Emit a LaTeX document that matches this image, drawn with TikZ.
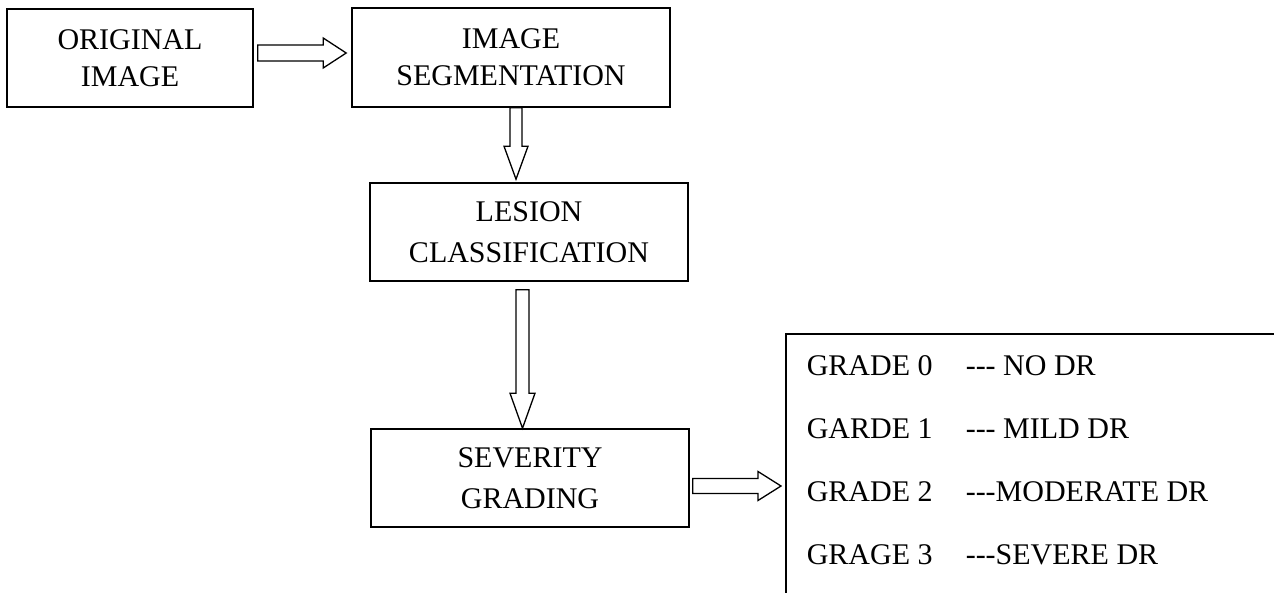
\documentclass[tikz,border=0pt]{standalone}
\usepackage{fontspec}
\setmainfont{Liberation Serif}
\usetikzlibrary{calc}

\tikzset{every picture/.style={line width=1.5pt}}
\tikzset{
	stage/.style={draw, line width=1.6pt, inner sep=0pt, minimum width=318pt, minimum height=98pt, align=center, font=\fontsize{30}{41}\selectfont},
	blockarr/.style={draw, line width=1.3pt, fill=white, line join=miter},
	grade/.style={anchor=base west, inner sep=0pt, font=\fontsize{30}{36}\selectfont}
}

% hollow block arrows: from, to, half shaft, half head, head length
\newcommand{\rblock}[5]{\draw [blockarr] ($(#1)+(0,-#3)$) -- ($(#2)+(-#5,-#3)$) -- ($(#2)+(-#5,-#4)$) -- (#2) -- ($(#2)+(-#5,#4)$) -- ($(#2)+(-#5,#3)$) -- ($(#1)+(0,#3)$) -- cycle;}
\newcommand{\dblock}[5]{\draw [blockarr] ($(#1)+(-#3,0)$) -- ($(#2)+(-#3,-#5)$) -- ($(#2)+(-#4,-#5)$) -- (#2) -- ($(#2)+(#4,-#5)$) -- ($(#2)+(#3,-#5)$) -- ($(#1)+(#3,0)$) -- cycle;}

\begin{document}
\begin{tikzpicture}[x=1pt,y=1pt,yscale=-1,xscale=1]
		\path [use as bounding box] (0,0) rectangle (1274,592);
		\clip (0,0) rectangle (1274,592);
		
		% Stages
		\node [stage, minimum width=246pt, font=\fontsize{30}{37}\selectfont] (orig) at (130,58) {ORIGINAL\\IMAGE};
		\node [stage, minimum height=99pt, font=\fontsize{30}{37}\selectfont] (seg) at (511,57.5) {IMAGE\\SEGMENTATION};
		\node [stage] (lesion) at (529,232) {LESION\\CLASSIFICATION};
		\node [stage] (sev) at (530,478) {SEVERITY\\GRADING};
		% Grade box (runs off the page)
		\node [draw, line width=1.7pt, inner sep=0pt, minimum width=600pt, minimum height=400pt, anchor=north west] (grades) at (785,333) {};
		
		% Arrow ends
		\coordinate (a1s) at ($(orig.east)+(4,-5)$);
		\coordinate (a1e) at ($(a1s -| seg.west)+(-5,0)$);
		\coordinate (a2s) at ($(seg.south)+(5,0)$);
		\coordinate (a2e) at ($(a2s |- lesion.north)+(0,-3)$);
		\coordinate (a3s) at ($(lesion.south)+(-6.5,8)$);
		\coordinate (a3e) at (a3s |- sev.north);
		\coordinate (a4s) at ($(sev.east)+(3,8)$);
		\coordinate (a4e) at ($(a4s -| grades.west)+(-4,0)$);
		
		% Block arrows
		\rblock{a1s}{a1e}{8}{15}{23}
		\dblock{a2s}{a2e}{6}{12}{33}
		\dblock{a3s}{a3e}{6.5}{12.5}{35}
		\rblock{a4s}{a4e}{7.5}{14.5}{23}
		
		% Grades
		\node [grade] (g0) at (806,375) {GRADE 0};
		\node [grade] (d0) at (965,375) {-{}-{}- NO DR};
		\node [grade] (g1) at (806,438) {GARDE 1};
		\node [grade] (d1) at (965,438) {-{}-{}- MILD DR};
		\node [grade] (g2) at (806,501) {GRADE 2};
		\node [grade] (d2) at (965,501) {-{}-{}-MODERATE DR};
		\node [grade] (g3) at (806,564) {GRAGE 3};
		\node [grade] (d3) at (965,564) {-{}-{}-SEVERE DR};
		
\end{tikzpicture}
\end{document}
